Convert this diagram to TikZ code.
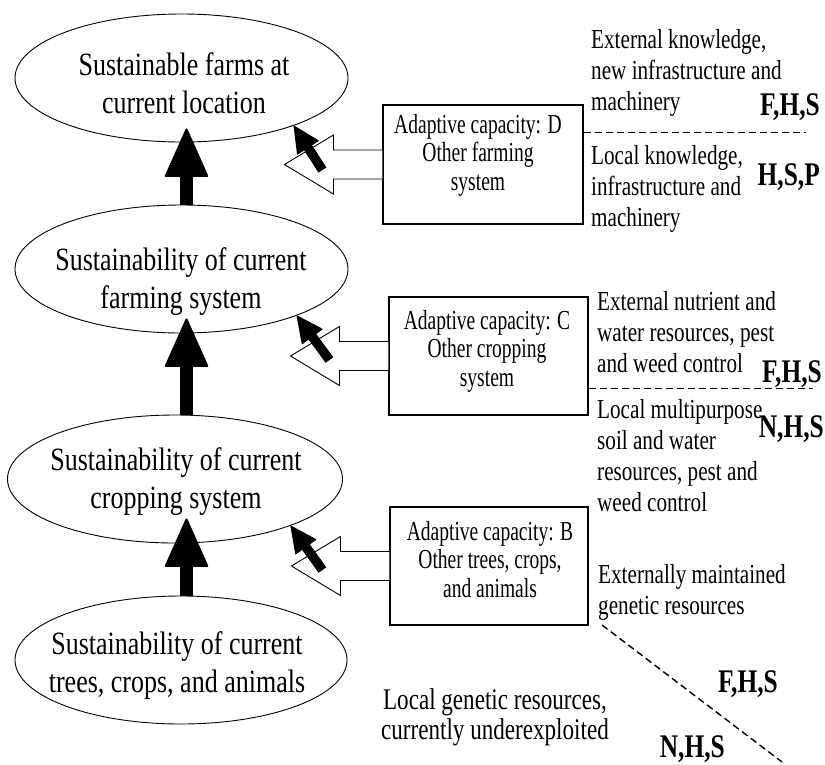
\documentclass[tikz,border=0pt]{standalone}
\usepackage{fontspec}
\setmainfont{Liberation Serif}[FakeStretch=0.77]
\newfontfamily\levelfont{Liberation Serif}[FakeStretch=0.8]
\newfontfamily\capfont{Liberation Serif}[FakeStretch=0.71]
\usetikzlibrary{arrows.meta,calc,shapes.geometric}

\begin{document}
\begin{tikzpicture}[x=1pt,y=-1pt,
  level/.style={draw, ellipse, line width=0.9pt, inner sep=0pt, minimum width=333pt, minimum height=128pt},
  leveltext/.style={anchor=base, align=center, inner sep=0pt, font=\levelfont\fontsize{32.5}{37.5}\selectfont},
  capbox/.style={draw, line width=1.1pt, inner sep=0pt, minimum width=199pt, minimum height=118pt},
  captext/.style={anchor=base, align=center, inner sep=0pt, font=\capfont\fontsize{27.5}{28.5}\selectfont},
  note/.style={anchor=base west, align=left, inner sep=0pt, font=\fontsize{27.5}{31}\selectfont},
  tag/.style={anchor=base east, inner sep=0pt, font=\fontsize{33}{36}\selectfont\bfseries},
  rise/.style={line width=13pt, -{Triangle[width=44pt,length=50pt,line width=2pt,round]}},
  push/.style={line width=9.5pt, -{Triangle[width=26pt,length=27pt,line width=1pt,round]}},
  hollow/.style={draw, fill=white, line width=0.9pt, line join=miter},
  divider/.style={line width=1.4pt, dash pattern=on 7pt off 4pt},
]
\useasboundingbox (0,0) rectangle (825,764);

% the four nested levels
\node[level] (e1) at (181.5,78) {};
\node[level] (e2) at (181.5,269) {};
\node[level, minimum width=335pt] (e3) at (175,479) {};
\node[level, minimum width=332pt] (e4) at (181,660) {};

% (base = baseline of the last line)
\node[leveltext] (t1) at (184,113) {Sustainable farms at\\current location};
\node[leveltext] (t2) at (181,308) {Sustainability of current\\farming system};
\node[leveltext] (t3) at (176,508) {Sustainability of current\\cropping system};
\node[leveltext] (t4) at (177,692) {Sustainability of current\\trees, crops, and animals};

% upward arrows between levels
\coordinate (spine) at (186.5,0);
\draw[rise] (e2.north -| spine) -- ($(e1.south -| spine)+(0,-14)$);
\draw[rise] (e3.north -| spine) -- ($(e2.south -| spine)+(0,-15)$);
\draw[rise] (e4.north -| spine) -- ($(e3.south -| spine)+(0,-25)$);

% adaptive capacity boxes
\node[capbox, minimum width=200pt, minimum height=119pt] (boxD) at (483,164.5) {};
\node[capbox] (boxC) at (488.5,356) {};
\node[capbox, minimum width=198pt] (boxB) at (489,566) {};

\node[captext] (cD) at (478,190) {Adaptive capacity: D\\Other farming\\system};
\node[captext] (cC) at (487,386) {Adaptive capacity: C\\Other cropping\\system};
\node[captext] (cB) at (490,597) {Adaptive capacity: B\\Other trees, crops,\\and animals};

% hollow block arrows leaving the boxes
\foreach \b in {boxD,boxC,boxB}{
  \draw[hollow] ($(\b.west)+(0,-14.5)$) -- ++(-49,0) -- ++(0,-15) -- ++(-49,29.5)
    -- ++(49,29.5) -- ++(0,-15) -- ++(49,0);
}

% black arrows into the levels
\draw[push] ($(boxD.west)+(-60,5.5)$) -- (e1.-23);
\draw[push] ($(boxC.west)+(-59,4)$) -- (e2.-22);
\draw[push] ($(boxB.west)+(-67,4)$) -- (e3.-22);

% resource notes
\node[note] (n1) at (591,110) {External knowledge,\\new infrastructure and\\machinery};
\node[note] (n2) at (591,226) {Local knowledge,\\infrastructure and\\machinery};
\node[note] (n3) at (597,372) {External nutrient and\\water resources, pest\\and weed control};
\node[note] (n4) at (597,511) {Local multipurpose\\soil and water\\resources, pest and\\weed control};
\node[note] (n5) at (598,614) {Externally maintained\\genetic resources};
\node[note, anchor=base, align=center, font=\fontsize{30}{30}\selectfont] (n6) at (495,739) {Local genetic resources,\\currently underexploited};

\node[tag] (g1) at (820,115) {F,H,S};
\node[tag] (g2) at (820,185) {H,S,P};
\node[tag] (g3) at (822,382) {F,H,S};
\node[tag] (g4) at (824,437) {N,H,S};
\node[tag] (g5) at (778,692) {F,H,S};
\node[tag] (g6) at (725,757) {N,H,S};

% dividers between external and local resources
\draw[divider] ($(boxD.north east)+(0,28)$) -- ++(222,0);
\draw[divider] ($(boxC.south east)+(0,-27)$) -- ++(224,0);
\coordinate (d1) at (602,625);
\coordinate (d2) at (782,762);
\draw[divider] (d1) -- (d2);
\end{tikzpicture}
\end{document}
